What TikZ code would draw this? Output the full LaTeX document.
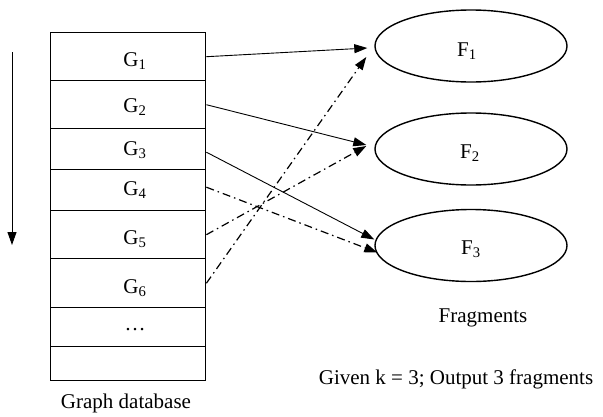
\documentclass[tikz,border=0pt]{standalone}
\usepackage{fontspec}
\setmainfont{Liberation Serif}
\usetikzlibrary{arrows.meta,shapes.geometric}
\begin{document}
\begin{tikzpicture}[x=1pt,y=-1pt,
  font=\fontsize{21}{24}\selectfont,
  rowbox/.style={draw, line width=1.4pt, minimum width=155pt, anchor=north west, inner sep=0pt},
  frag/.style={draw, line width=1.4pt, ellipse, minimum width=192pt, minimum height=72pt, inner sep=0pt},
  tip/.style={-{Triangle[length=13pt,width=9pt]}},
  link/.style={tip, line width=0.9pt},
  dlink/.style={tip, line width=1.2pt, dash pattern=on 8pt off 4pt on 1.5pt off 4pt}]
\useasboundingbox (0,0) rectangle (603,416);

% table of graphs
\node[rowbox, minimum height=48pt] (g1) at (50,32) {};
\node[rowbox, minimum height=48pt] (g2) at (50,80) {};
\node[rowbox, minimum height=41pt] (g3) at (50,128) {};
\node[rowbox, minimum height=41pt] (g4) at (50,169) {};
\node[rowbox, minimum height=48pt] (g5) at (50,210) {};
\node[rowbox, minimum height=49pt] (g6) at (50,258) {};
\node[rowbox, minimum height=39pt] (g7) at (50,307) {};
\node[rowbox, minimum height=34pt] (g8) at (50,346) {};

\node (t1) at (135,61) {G\textsubscript{1}};
\node (t2) at (135,107) {G\textsubscript{2}};
\node (t3) at (135,150) {G\textsubscript{3}};
\node (t4) at (135,190) {G\textsubscript{4}};
\node (t5) at (135,239) {G\textsubscript{5}};
\node (t6) at (135,288) {G\textsubscript{6}};
\node (t7) at (135,330) {\dots};
\node (cap1) at (126,403) {Graph database};

% scan direction
\coordinate (s0) at (12,52);
\coordinate (s1) at (12,245);
\draw[tip, line width=1pt] (s0) -- (s1);

% fragments
\node[frag] (f1) at (471,46) {};
\node[frag] (f2) at (471,149) {};
\node[frag] (f3) at (471,245.5) {};
\node (u1) at (467,51) {F\textsubscript{1}};
\node (u2) at (470,153) {F\textsubscript{2}};
\node (u3) at (471,249) {F\textsubscript{3}};
\node (cap2) at (483,318) {Fragments};
\node (cap3) at (456,379) {Given k = 3; Output 3 fragments};

% assignments
\draw[link] (g1.east) -- ([shift={(-7,2)}]f1.west);
\draw[link] (g2.east) -- ([shift={(-8,-4)}]f2.west);
\draw[link] ([yshift=-3]g3.east) -- ([shift={(0,-6)}]f3.west);
\draw[dlink] ([yshift=3]g4.east) -- ([shift={(3,7)}]f3.west);
\draw[dlink] (g5.east) -- ([shift={(-8,-3)}]f2.west);
\draw[dlink] (g6.east) -- ([shift={(-8,11)}]f1.west);
\end{tikzpicture}
\end{document}
